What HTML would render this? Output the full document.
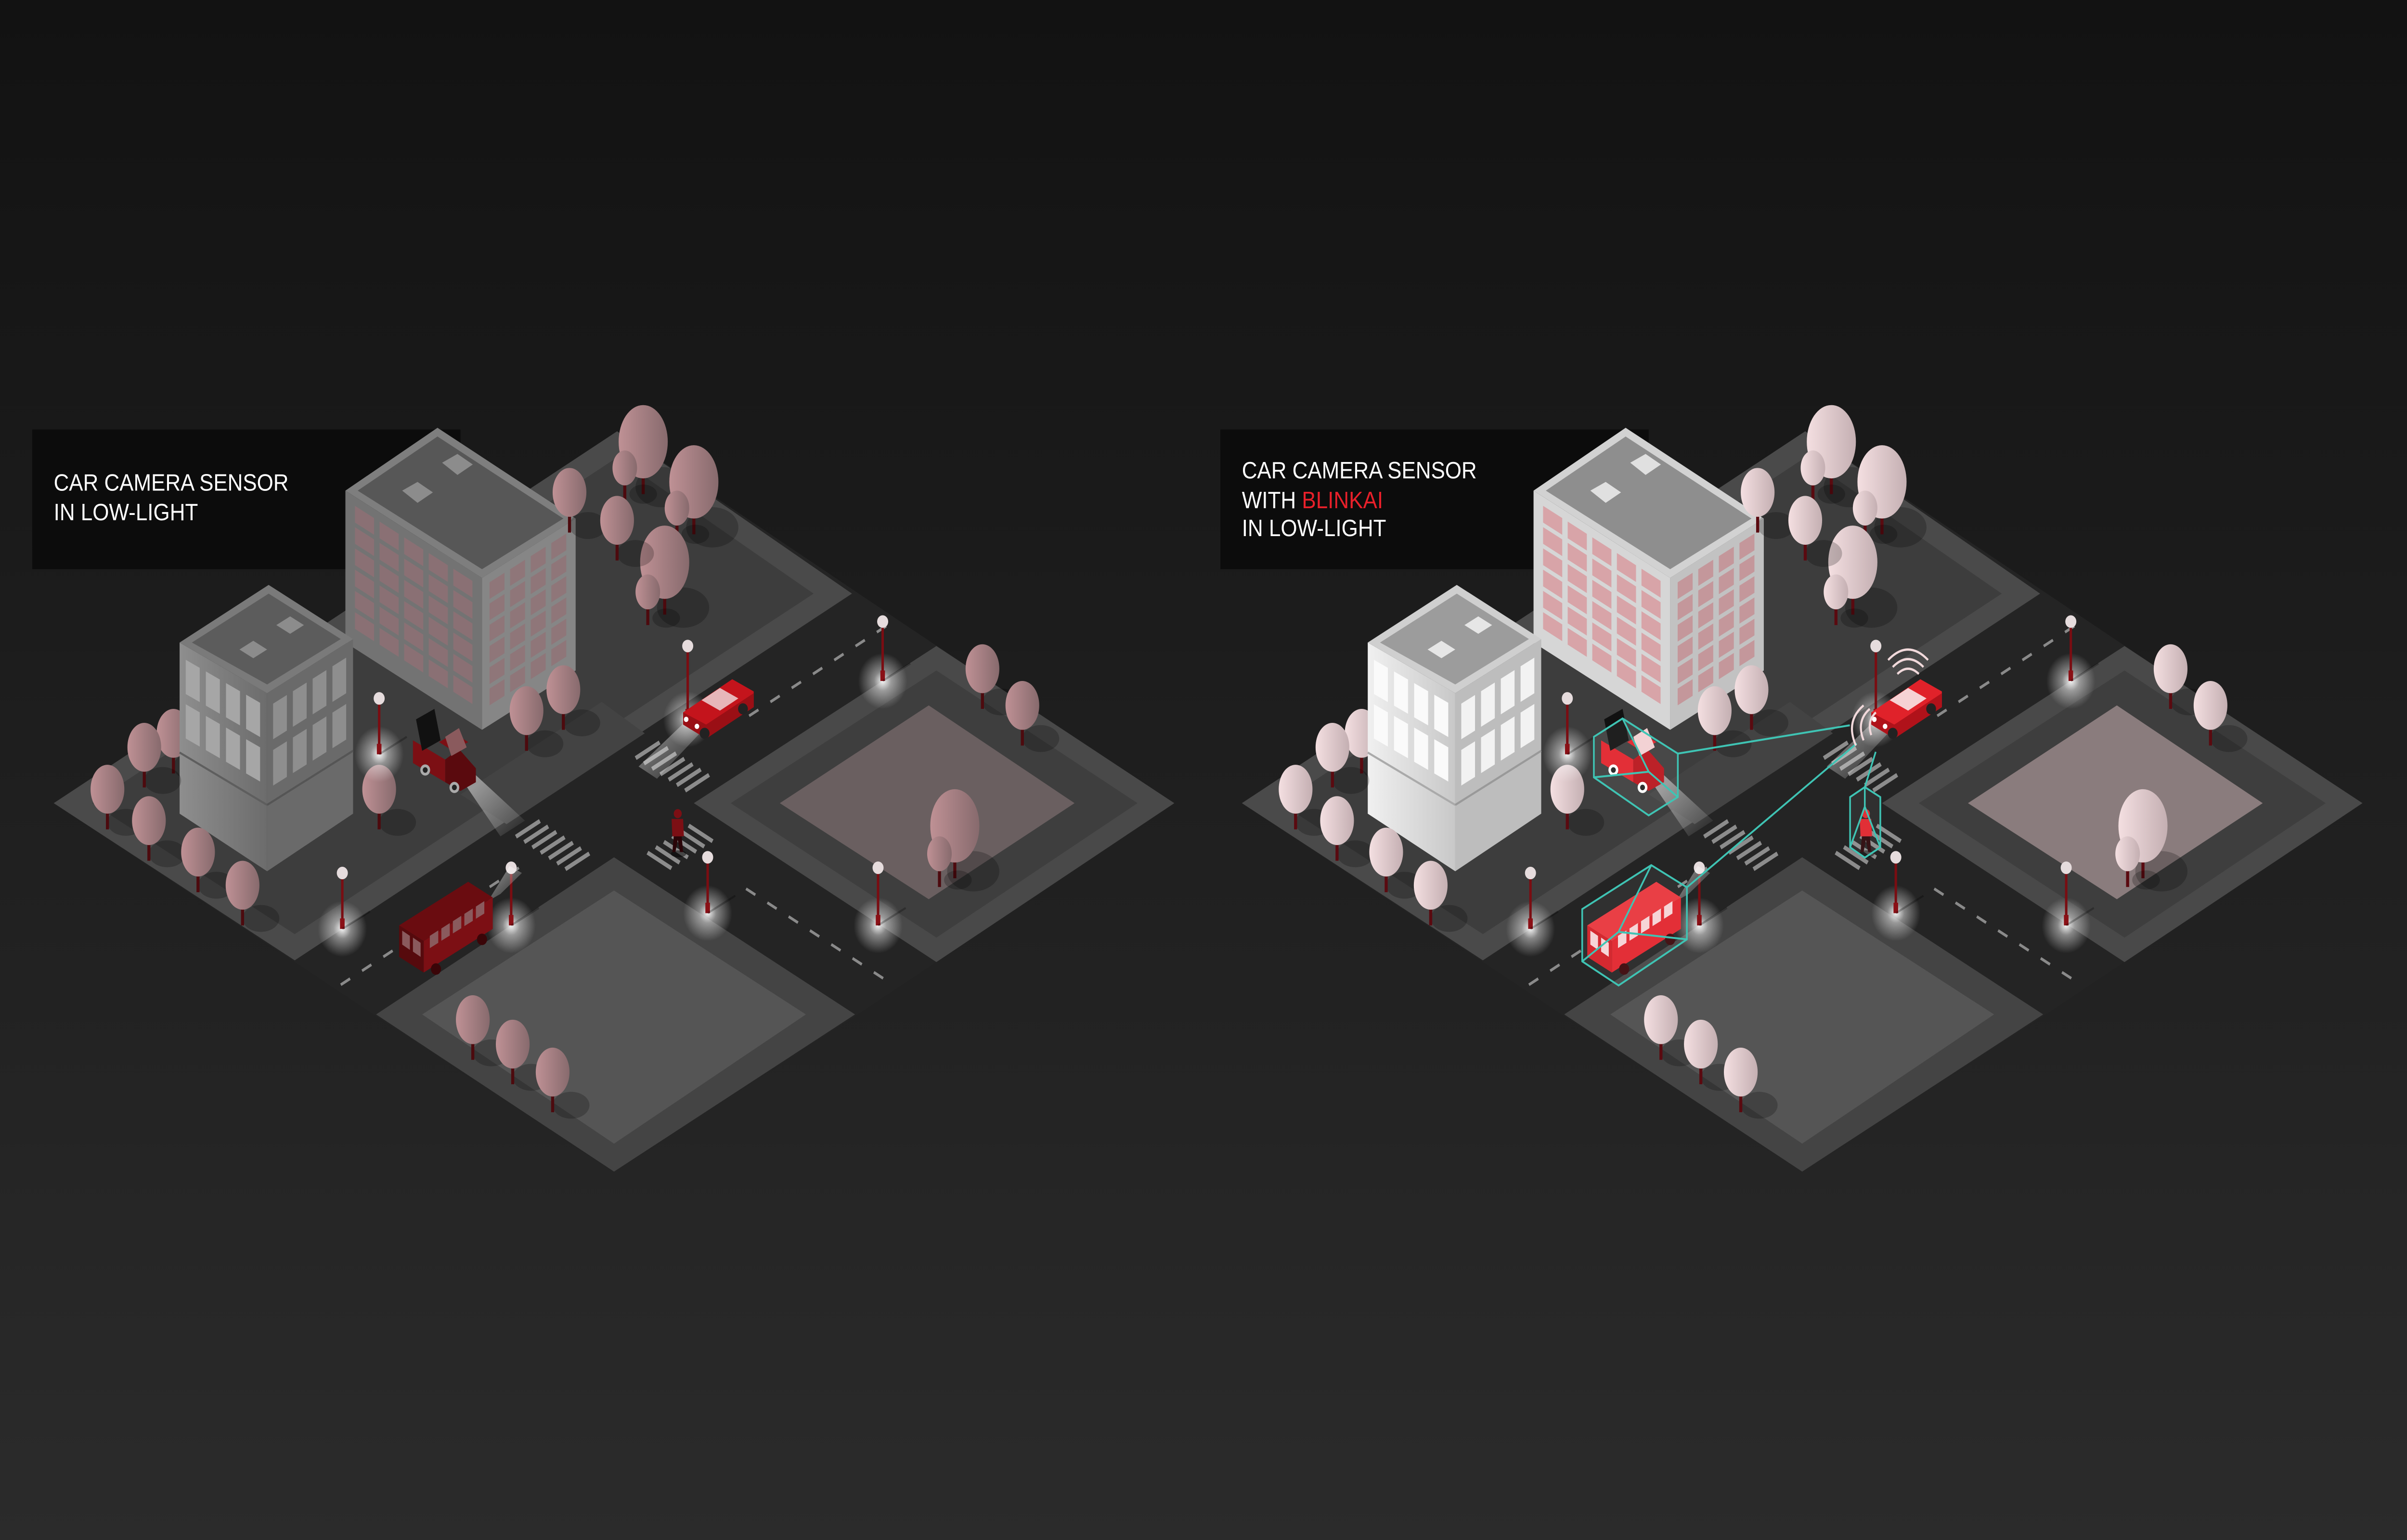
<!DOCTYPE html>
<html><head><meta charset="utf-8">
<style>
html,body{margin:0;padding:0;background:#1b1b1b;width:100%;height:100%;overflow:hidden;}
svg{display:block;position:fixed;left:0;top:0;width:100vw;height:100vh;}
</style></head>
<body>
<svg id="s" xmlns="http://www.w3.org/2000/svg" viewBox="0 0 1568 882" preserveAspectRatio="none">
<defs>
<linearGradient id="bg" x1="0" y1="0" x2="0" y2="1"><stop offset="0" stop-color="#121212"/><stop offset="1" stop-color="#2b2b2b"/></linearGradient>
<linearGradient id="tL" x1="0" y1="0" x2="1" y2="0"><stop offset="0" stop-color="#bf9195"/><stop offset="1" stop-color="#876a6d"/></linearGradient>
<linearGradient id="tR" x1="0" y1="0" x2="1" y2="0"><stop offset="0" stop-color="#f4dfe1"/><stop offset="1" stop-color="#c4afb2"/></linearGradient>
<radialGradient id="glow"><stop offset="0" stop-color="#fff" stop-opacity="0.95"/><stop offset="0.35" stop-color="#fff" stop-opacity="0.45"/><stop offset="1" stop-color="#fff" stop-opacity="0"/></radialGradient>
<linearGradient id="beam" x1="0" y1="0" x2="1" y2="1"><stop offset="0" stop-color="#fff" stop-opacity="0.55"/><stop offset="1" stop-color="#fff" stop-opacity="0"/></linearGradient>
<linearGradient id="swL" x1="0" y1="0" x2="1" y2="0"><stop offset="0" stop-color="#8e8e8e"/><stop offset="1" stop-color="#6c6c6c"/></linearGradient>
<linearGradient id="swR" x1="0" y1="0" x2="1" y2="0"><stop offset="0" stop-color="#f0f0f0"/><stop offset="1" stop-color="#c8c8c8"/></linearGradient>
</defs>
<rect width="1568" height="882" fill="url(#bg)"/>
<g id="scenes"></g>
<g font-family="'Liberation Sans', Arial, sans-serif" font-size="13.5" fill="#ffffff">
<text x="35" y="281" textLength="153" lengthAdjust="spacingAndGlyphs">CAR CAMERA SENSOR</text>
<text x="35" y="298" textLength="94" lengthAdjust="spacingAndGlyphs">IN LOW-LIGHT</text>
<text x="809" y="274" textLength="153" lengthAdjust="spacingAndGlyphs">CAR CAMERA SENSOR</text>
<text x="809" y="291" textLength="92" lengthAdjust="spacingAndGlyphs">WITH <tspan fill="#e8202a">BLINKAI</tspan></text>
<text x="809" y="307" textLength="94" lengthAdjust="spacingAndGlyphs">IN LOW-LIGHT</text>
</g>
</svg>
<script>
(function(){
var out='';
function P(a){return a.map(function(p){return p[0].toFixed(2)+','+p[1].toFixed(2)}).join(' ')}
function poly(a,f,ex){out+='<polygon points="'+P(a)+'" fill="'+f+'" '+(ex||'')+'/>';}
function line(x1,y1,x2,y2,c,w,ex){out+='<line x1="'+x1+'" y1="'+y1+'" x2="'+x2+'" y2="'+y2+'" stroke="'+c+'" stroke-width="'+w+'" '+(ex||'')+'/>';}
function circ(x,y,r,f,ex){out+='<circle cx="'+x+'" cy="'+y+'" r="'+r+'" fill="'+f+'" '+(ex||'')+'/>';}
function ell(x,y,rx,ry,f,ex){out+='<ellipse cx="'+x+'" cy="'+y+'" rx="'+rx+'" ry="'+ry+'" fill="'+f+'" '+(ex||'')+'/>';}
function q(A,B,D,u0,u1,v0,v1){
 function pt(u,v){return [A[0]+u*(B[0]-A[0])+v*(D[0]-A[0]),A[1]+u*(B[1]-A[1])+v*(D[1]-A[1])];}
 return [pt(u0,v0),pt(u1,v0),pt(u1,v1),pt(u0,v1)];
}
function scene(dx,R){
 function T(a){return a.map(function(p){return [p[0]+dx,p[1]]});}
 function X(x){return x+dx;}
 poly(T([[21,246],[300,246],[300,326],[21,326]]),'#0c0c0c');
 poly(T([[35,460],[402,247],[612,371],[765,460],[610,551],[557,582],[400,671],[245,582],[192,551]]),'#242424');
 poly(T([[35,460],[402,247],[555,340],[192,550]]),'#4a4a4a');
 poly(T([[60,460],[402,262],[530,340],[192,535]]),'#3d3d3d');
 poly(T([[300,455],[392,402],[420,420],[330,472]]),'#434343');
 poly(T([[452,460],[610,370],[765,460],[610,551]]),'#494949');
 poly(T([[476,460],[610,384],[741,460],[610,537]]),'#3e3e3e');
 poly(T([[508,460],[605,404],[700,460],[605,515]]),R?'#8a7c7d':'#6a5f60');
 poly(T([[400,491],[557,581],[400,671],[245,581]]),'#444444');
 poly(T([[400,510],[525,581],[400,655],[275,581]]),'#555555');
 var dash='stroke-dasharray="7 9" stroke-linecap="butt"';
 line(X(222),564,X(338),497,'#8a8a8a',1.6,dash);
 line(X(488),410,X(580),357,'#8a8a8a',1.6,dash);
 line(X(486),509,X(580),563,'#8a8a8a',1.6,dash);
 function cw(cx,cy,ax,ay,bx,by,n){
  for(var i=0;i<n;i++){var t=(i-(n-1)/2)*6.2;var px=cx+bx*t,py=cy+by*t;
   line((px-ax*9).toFixed(1),(py-ay*9).toFixed(1),(px+ax*9).toFixed(1),(py+ay*9).toFixed(1),'#8c8c8c',2.4);}
 }
 cw(X(438),439,0.866,-0.5,0.866,0.5,7);
 cw(X(360),484,0.866,-0.5,0.866,0.5,7);
 cw(X(443),485,0.866,0.5,0.866,-0.5,6);
 function tree(x,y,s){var rx=s==2?16:(s==0?8:11),ry=s==2?21:(s==0?10:14);
  ell(X(x+12),y+ry+5,rx+1,ry*0.55,'#000','opacity="0.22"');
  line(X(x),y+ry-4,X(x),y+ry+9,R?'#5a0a10':'#4d0a0e',2);
  ell(X(x),y,rx,ry,R?'url(#tR)':'url(#tL)');
 }
 tree(113,420,1);
 var TA=[225,281],TB=[314,331],TC=[375,297],TD=[285,245];
 var TL=[225,368],TF=[314,418],TR=[375,384];
 poly(T([TA,TB,TF,TL]),R?'#d6d6d6':'#737373');
 poly(T([TB,TC,TR,TF]),R?'#c2c2c2':'#868686');
 for(var r=0;r<6;r++){for(var c=0;c<5;c++){
  var u0=0.07+c*0.18,v0=0.06+r*0.14;
  poly(T(q(TA,TB,TL,u0,u0+0.14,v0,v0+0.11)),R?'#d8a4a8':'#8a7074');}}
 for(var r=0;r<6;r++){for(var c=0;c<4;c++){
  var u0=0.08+c*0.22,v0=0.06+r*0.14;
  poly(T(q(TB,TC,TF,u0,u0+0.16,v0,v0+0.11)),R?'#c4979b':'#8f7679');}}
 poly(T([TD,TC,TB,TA]),R?'#d2d2d2':'#7e7e7e');
 poly(T([[285,250],[367,297],[314,326],[233,281]]),R?'#8e8e8e':'#575757');
 poly(T([[262,281],[272,276],[282,282],[272,288]]),R?'#e0e0e0':'#8c8c8c');
 poly(T([[288,265],[298,260],[308,266],[298,272]]),R?'#e0e0e0':'#8c8c8c');
 var SA=[117,368],SB=[174,397],SC=[230,366],SD=[175,335];
 var SL=[117,466],SF=[174,499],SR=[230,466];
 poly(T([SA,SB,SF,SL]),R?'url(#swR)':'url(#swL)');
 poly(T([SB,SC,SR,SF]),R?'#bdbdbd':'#6a6a6a');
 for(var r=0;r<2;r++){for(var c=0;c<4;c++){
  var u0=0.07+c*0.23,v0=0.08+r*0.26;
  poly(T(q(SA,SB,SL,u0,u0+0.16,v0,v0+0.2)),R?'#fafafa':'#a6a6a6');
  poly(T(q(SB,SC,SF,u0,u0+0.16,v0,v0+0.2)),R?'#f2f2f2':'#8e8e8e');}}
 line(X(117),431,X(174),461,R?'#aaa':'#5e5e5e',1.2);
 line(X(174),461,X(230),430,R?'#999':'#555',1.2);
 poly(T([SD,SC,SB,SA]),R?'#cfcfcf':'#7a7a7a');
 poly(T([[175,340],[222,366],[174,392],[125,368]]),R?'#9c9c9c':'#5c5c5c');
 poly(T([[156,372],[165,367],[174,372],[165,377]]),R?'#e6e6e6':'#8c8c8c');
 poly(T([[180,358],[189,353],[198,358],[189,363]]),R?'#e6e6e6':'#8c8c8c');
 [[419,253,2],[407,268,0],[452,276,2],[441,291,0],[433,322,2],[422,339,0],[371,282,1],[402,298,1],
  [343,407,1],[367,395,1],[640,383,1],[666,404,1],[94,428,1],[70,452,1],[97,470,1],[129,488,1],[158,507,1],
  [247,452,1],[308,584,1],[334,598,1],[360,614,1],[622,473,2],[612,489,0]].forEach(function(t){tree(t[0],t[1],t[2]);});
 [[247,400,432],[448,370,412],[575,356,390],[223,500,532],[333,497,530],[461,491,523],[572,497,530]].forEach(function(l){
  circ(X(l[0]),l[2],16,'url(#glow)');
  line(X(l[0]),l[1],X(l[0]),l[2],'#7a0d12',1.6);
  line(X(l[0]),l[2]-6,X(l[0]),l[2],'#8a1016',3);
  line(X(l[0]),l[2],X(l[0]+18),l[2]-10,'#000',1.2,'opacity="0.25"');
  circ(X(l[0]),l[1],3.6,'#e6dcdd');
 });
 var red=R?'#e0222a':'#c4141c', dred=R?'#e2232b':'#7c0f14', dred2=R?'#b8141b':'#5a0a0e';
 poly(T([[448,412],[458,418],[428,446],[416,439]]),'url(#beam)');
 poly(T([[445,408],[477,389],[491,396],[491,405],[460,423],[445,415]]),red);
 poly(T([[460,423],[491,405],[491,397],[460,415],[445,408],[445,415]]),R?'#b0121a':'#9a0f15');
 poly(T([[457,401],[469,394],[481,400],[469,407]]),R?'#f6d2d4':'#e7b6b9');
 circ(X(459),420,3.2,'#222');circ(X(484),406,3.2,'#222');
 circ(X(447),412,1.5,'#fff');circ(X(454),416,1.5,'#fff');
 poly(T([[302,448],[310,444],[342,470],[326,479]]),'url(#beam)');
 poly(T([[269,424],[290,435],[290,448],[269,437]]),dred);
 poly(T([[271,412],[283,406],[287,424],[275,430]]),'#111');
 poly(T([[286,425],[296,420],[305,425],[295,430]]),dred);
 poly(T([[290,435],[299,429],[310,440],[310,448],[300,453],[290,448]]),dred2);
 poly(T([[290,422],[299,417],[304,428],[294,433]]),R?'#f3d0d2':'#8a5a5d');
 circ(X(277),441,3.2,R?'#fff':'#aaa');circ(X(277),441,1.6,'#222');
 circ(X(296),451,3.2,R?'#fff':'#aaa');circ(X(296),451,1.6,'#222');
 poly(T([[318,516],[326,512],[340,500],[332,496]]),'url(#beam)');
 poly(T([[260,530],[305,505],[321,514],[276,539]]),R?'#e8333a':'#6a0c10');
 poly(T([[276,539],[321,514],[321,532],[276,557]]),dred);
 poly(T([[260,530],[276,539],[276,557],[260,548]]),R?'#d21c24':'#560a0d');
 for(var i=0;i<5;i++){var bx=280+i*7.5,by=536-i*4.2;poly(T([[bx,by],[bx+5.5,by-3.1],[bx+5.5,by+4],[bx,by+7]]),R?'#f6d3d5':'#8a5a5d');}
 poly(T([[262,533],[267,536],[267,544],[262,541]]),R?'#f6d3d5':'#8a5a5d');
 poly(T([[269,537],[274,540],[274,548],[269,545]]),R?'#f6d3d5':'#8a5a5d');
 circ(X(284),555,3.3,'#3a0508');circ(X(314),538,3.3,'#3a0508');
 ell(X(442),489,5,2,'#000','opacity="0.5"');
 poly(T([[439,478],[444,478],[445,488],[443,488],[441.5,481],[440,488],[438,488]]),'#2a0508');
 poly(T([[437.5,469],[445,469],[445.5,479],[438,479]]),R?'#e0222a':'#7c0f14');
 circ(X(441.5),466,2.6,R?'#e0222a':'#7c0f14');
}
scene(0,false);
scene(774,true);
var cy='#3fc4b4';
function hex(pts,inner){out+='<polygon points="'+P(pts)+'" fill="#fff" fill-opacity="0.06" stroke="'+cy+'" stroke-width="1.1"/>';
 [1,3,5].forEach(function(i){line(inner[0],inner[1],pts[i][0],pts[i][1],cy,1.1);});}
hex([[1038.3,422],[1057,411.5],[1093,431.6],[1093,456.5],[1074,467],[1038.3,445.2]],[1074,442]);
hex([[1030.7,520.7],[1075.7,495.5],[1098.9,508.2],[1098.9,538],[1054.4,564.4],[1030.7,550.6]],[1054.4,533.7]);
hex([[1205.2,456.5],[1214.8,450.8],[1224.9,456.5],[1224.9,485.3],[1214.8,491.2],[1205.2,485.3]],[1214.8,462]);
line(1093,431.6,1205,415.4,cy,1.1);
line(1098.9,508.2,1209.5,425.8,cy,1.1);
line(1214.8,450.8,1221.9,430.6,cy,1.1);
['M1236,386 q7,-6 14,0','M1233,382 q10,-9 20,0','M1230,378 q13,-12 26,0'].forEach(function(d){out+='<path d="'+d+'" fill="none" stroke="#f1d9db" stroke-width="1.3"/>';});
['M1222,408 q-6,5 -3,13','M1218,406 q-9,7 -4,18','M1214,404 q-12,9 -5,23'].forEach(function(d){out+='<path d="'+d+'" fill="none" stroke="#f1d9db" stroke-width="1.3"/>';});
document.getElementById('scenes').innerHTML=out;
})();
</script>
</body></html>
